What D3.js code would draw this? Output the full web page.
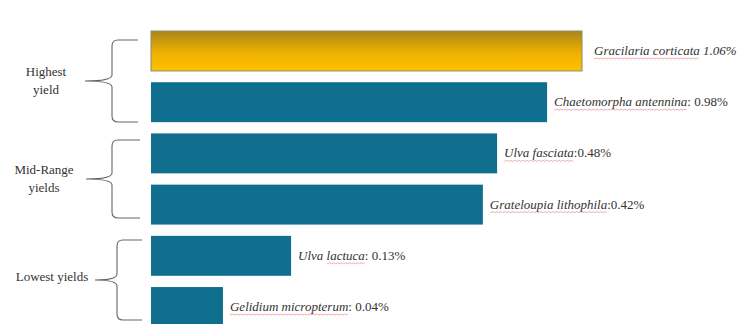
<!DOCTYPE html>
<html><head><meta charset="utf-8">
<script src="https://cdn.jsdelivr.net/npm/d3@7"></script>
</head><body style="margin:0">
<svg id="c" width="745" height="324"></svg>
<script>
const species = ["Gracilaria corticata","Chaetomorpha antennina","Ulva fasciata","Grateloupia lithophila","Ulva lactuca","Gelidium micropterum"];
const yields = ["1.06%","0.98%","0.48%","0.42%","0.13%","0.04%"];
const separators = [" ",": ",":",":",": ",": "];
// displayed bar length (relative units, as drawn in the picture)
const barLength = [100, 91.9, 80.3, 77.0, 32.5, 16.7];
const groupNames = [["Highest","yield"],["Mid-Range","yields"],["Lowest yields"]];

const svg = d3.select("#c");
const x = d3.scaleLinear().domain([0,100]).range([151,582]);
const y = d3.scaleBand().domain(d3.range(species.length)).range([31,327]).paddingInner(0.22);

const defs = svg.append("defs");
const g = defs.append("linearGradient").attr("id","gold").attr("x1",0).attr("x2",0).attr("y1",0).attr("y2",1);
g.append("stop").attr("offset","0%").attr("stop-color","#a8861a");
g.append("stop").attr("offset","55%").attr("stop-color","#eeb100");
g.append("stop").attr("offset","100%").attr("stop-color","#ffc000");

svg.selectAll("rect.bar").data(barLength).enter().append("rect")
  .attr("class","bar")
  .attr("x",x(0)).attr("y",(d,i)=>y(i))
  .attr("width",d=>x(d)-x(0)).attr("height",y.bandwidth())
  .attr("fill",(d,i)=>i===0?"url(#gold)":"#106f8e")
  .attr("stroke",(d,i)=>i===0?"#8c8c70":"none").attr("stroke-width",1);

function txt(xp,yp,str,italic){
  return svg.append("text").attr("x",xp).attr("y",yp).attr("font-size",13)
    .style("font-family",'"Liberation Serif"').style("font-style",italic?"italic":"normal")
    .attr("fill","#333").text(str);
}

species.forEach((s,i)=>{
  const x0 = x(barLength[i])+(i===0?12:7);
  const yb = y(i)+y.bandwidth()/2+4;
  const t1 = txt(x0,yb,s,true);
  const w1 = t1.node().getComputedTextLength();
  txt(x0+w1,yb,separators[i]+yields[i],i===0).attr("xml:space","preserve").style("white-space","pre");
  let startX = x0, endX = x0+w1;
  if(i===4){
    const tmp = txt(0,-50,s.split(" ")[0]+" ",true).style("white-space","pre");
    startX += tmp.node().getComputedTextLength(); tmp.remove();
  }
  const yy = yb+3;
  let p = `M${startX},${yy}`;
  for(let xx=startX; xx<endX; xx+=2){ p += `L${Math.min(xx+1,endX)},${yy+((xx-startX)/2%2===0?1:0)}`; }
  svg.append("path").attr("d",p).attr("fill","none").attr("stroke","#e07070").attr("stroke-width",0.8).attr("opacity",0.7);
});

function brace(top,bottom,vx,tipX,endX){
  const mid=(top+bottom)/2, r=6;
  return `M${endX},${top} L${vx+r},${top} Q${vx},${top} ${vx},${top+r} L${vx},${mid-r} Q${vx},${mid} ${tipX},${mid} Q${vx},${mid} ${vx},${mid+r} L${vx},${bottom-r} Q${vx},${bottom} ${vx+r},${bottom} L${endX},${bottom}`;
}
const braceSpec = [[40,122,112,85,138],[140,218,112,86,140],[240,320,117,95,142]];
const labelX = [46,44,52];
braceSpec.forEach((b,k)=>{
  svg.append("path").attr("d",brace(...b)).attr("fill","none").attr("stroke","#666").attr("stroke-width",1.1);
  const mid=(b[0]+b[1])/2;
  const lines=groupNames[k];
  lines.forEach((ln,j)=>{
    txt(labelX[k], mid+(lines.length>1?0:-3)+4+(j-(lines.length-1)/2)*18, ln, false).attr("text-anchor","middle");
  });
});
</script>
</body></html>
